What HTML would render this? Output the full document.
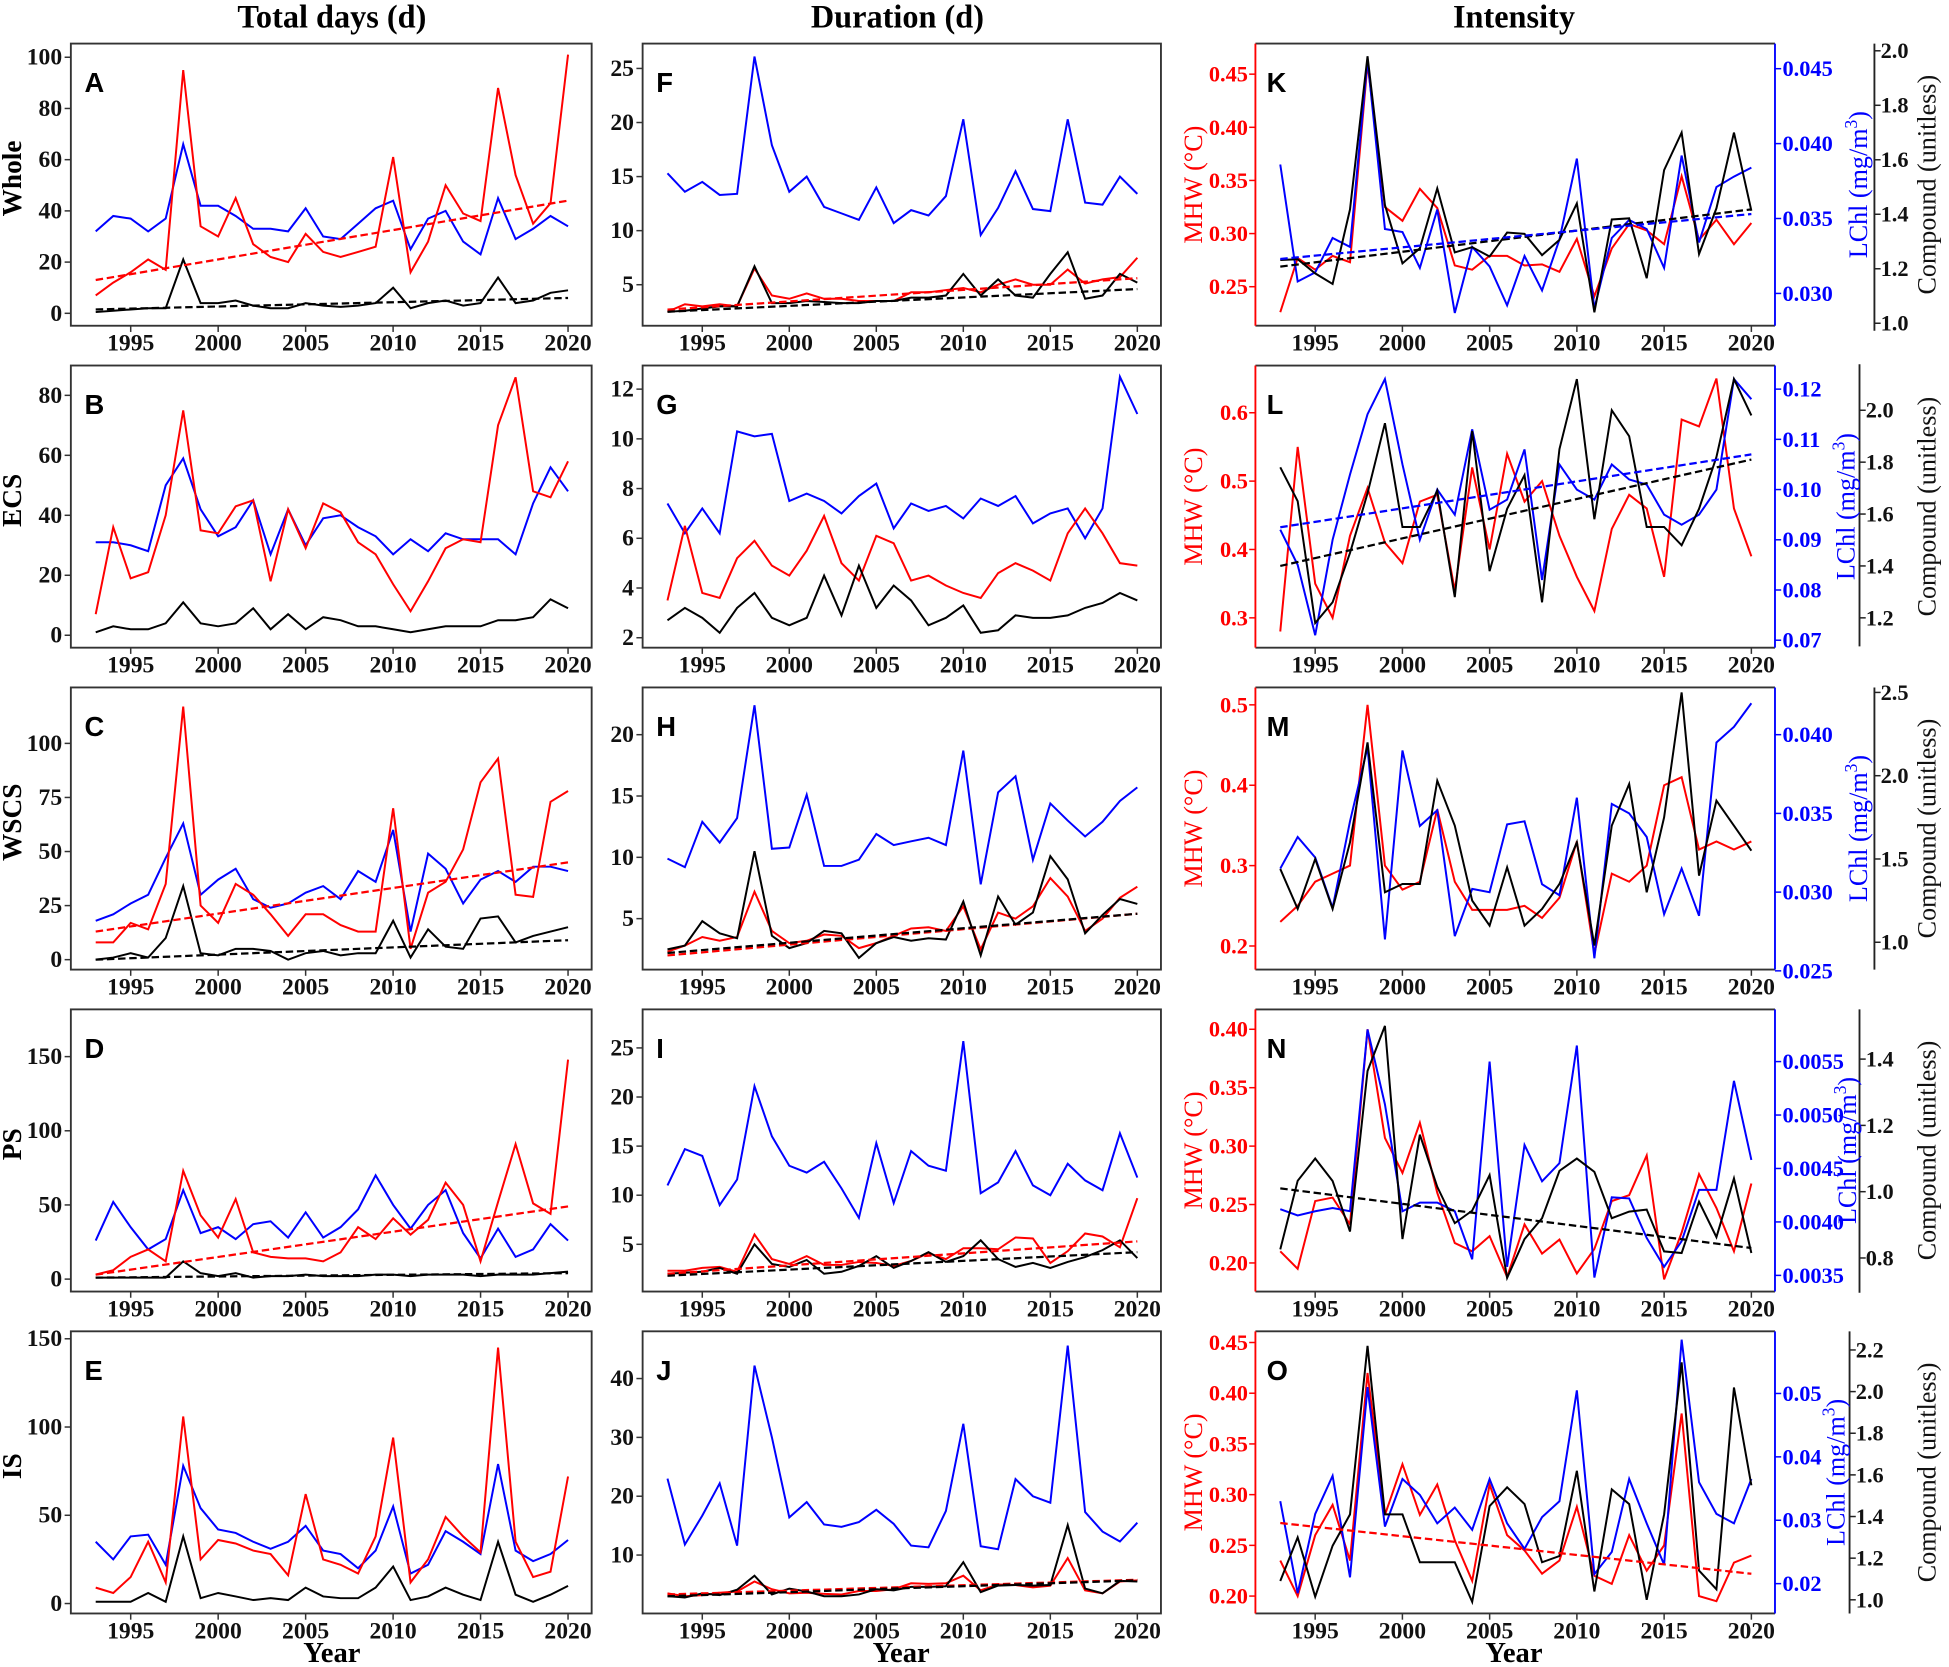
<!DOCTYPE html>
<html><head><meta charset="utf-8"><style>
html,body{margin:0;padding:0;background:#fff}
svg{display:block}
text{font-family:"Liberation Serif",serif;font-weight:bold}
text.nw{font-weight:normal}
</style></head><body>
<svg id="fig" width="1949" height="1667" viewBox="0 0 1568 1341" xmlns="http://www.w3.org/2000/svg"></svg>
<script>
const years = [1993,1994,1995,1996,1997,1998,1999,2000,2001,2002,2003,2004,2005,2006,2007,2008,2009,2010,2011,2012,2013,2014,2015,2016,2017,2018,2019,2020];
const xTicks = [1995,2000,2005,2010,2015,2020];
// Total days
const aRed = [7,12,16,21,17,95,34,30,45,27,22,20,31,24,22,24,26,61,16,28,50,39,36,88,54,35,43,101];
const aBlue = [32,38,37,32,37,66,42,42,38,33,33,32,41,30,29,35,41,44,25,37,40,28,23,45,29,33,38,34];
const aBlack = [0.5,1,1.5,2,2,21,4,4,5,3,2,2,4,3,2.5,3,4,10,2,4,5,3,4,14,4,5,8,9];
const aTrendRed = [13,44]; const aTrendBlack = [1.5,6];
const bRed = [7,36,19,21,40,75,35,34,43,45,18,42,29,44,41,31,27,17,8,18,29,32,31,70,86,48,46,58];
const bBlue = [31,31,30,28,50,59,42,33,36,45,27,42,30,39,40,36,33,27,32,28,34,32,32,32,27,44,56,48];
const bBlack = [1,3,2,2,4,11,4,3,4,9,2,7,2,6,5,3,3,2,1,2,3,3,3,5,5,6,12,9];
const cRed = [8,8,17,14,35,117,25,17,35,30,21,11,21,21,16,13,13,70,5,31,36,51,82,93,30,29,73,78];
const cBlue = [18,21,26,30,47,63,30,37,42,28,24,26,31,34,28,41,36,60,13,49,42,26,37,41,36,43,43,41];
const cBlack = [0,1,3,1,10,34,3,2,5,5,4,0,3,4,2,3,3,18,1,14,6,5,19,20,8,11,13,15];
const cTrendRed = [13,45]; const cTrendBlack = [0,9];
const dRed = [3,6,15,20,12,73,43,28,54,18,15,14,14,12,18,35,27,41,30,40,65,50,12,52,91,51,44,148];
const dBlue = [26,52,35,20,27,60,31,35,27,37,39,28,45,28,35,47,70,50,34,50,60,31,14,34,15,20,37,26];
const dBlack = [1,1,1,1,1,12,4,2,4,1,2,2,3,2,2,2,3,3,2,3,3,3,2,3,3,3,4,5];
const dTrendRed = [3,49]; const dTrendBlack = [1,4];
const eRed = [9,6,15,35,12,106,25,36,34,30,28,16,62,25,22,17,38,94,12,25,49,38,29,145,35,15,18,72];
const eBlue = [35,25,38,39,22,78,54,42,40,35,31,35,44,30,28,20,30,55,17,22,41,35,28,79,30,24,28,36];
const eBlack = [1,1,1,6,1,38,3,6,4,2,3,2,9,4,3,3,9,21,2,4,9,5,2,35,5,1,5,10];
// Duration
const fRed = [2.5,3.2,3,3.2,3,6.5,4,3.7,4.2,3.7,3.7,3.5,3.5,3.5,4.3,4.3,4.5,4.7,4.3,5,5.5,5,5,6.4,5.1,5.5,5.7,7.5];
const fBlue = [15.3,13.6,14.5,13.3,13.4,26.1,17.9,13.6,15,12.2,11.6,11,14,10.7,11.9,11.4,13.2,20.3,9.6,12.1,15.5,12,11.8,20.3,12.6,12.4,15,13.4];
const fBlack = [2.5,2.6,2.8,3,3,6.7,3.3,3.3,3.5,3.4,3.3,3.3,3.5,3.5,3.8,3.8,4,6,4,5.5,4,3.8,6,8,3.7,4,6,5.2];
const fTrendRed = [2.7,5.6]; const fTrendBlack = [2.5,4.6];
const gRed = [3.5,6.5,3.8,3.6,5.2,5.9,4.9,4.5,5.5,6.9,5.0,4.3,6.1,5.8,4.3,4.5,4.1,3.8,3.6,4.6,5.0,4.7,4.3,6.2,7.2,6.2,5.0,4.9];
const gBlue = [7.4,6.2,7.2,6.2,10.3,10.1,10.2,7.5,7.8,7.5,7.0,7.7,8.2,6.4,7.4,7.1,7.3,6.8,7.6,7.3,7.7,6.6,7.0,7.2,6.0,7.2,12.5,11.0];
const gBlack = [2.7,3.2,2.8,2.2,3.2,3.8,2.8,2.5,2.8,4.5,2.9,4.9,3.2,4.1,3.5,2.5,2.8,3.3,2.2,2.3,2.9,2.8,2.8,2.9,3.2,3.4,3.8,3.5];
const hRed = [2.3,2.8,3.5,3.2,3.5,7.2,4,3,3.2,3.7,3.6,2.6,3,3.6,4.2,4.3,4,6,2.5,5.5,5,6,8.3,6.8,4,5,6.7,7.6];
const hBlue = [9.9,9.2,12.9,11.2,13.2,22.4,10.7,10.8,15.1,9.3,9.3,9.8,11.9,11,11.3,11.6,11,18.7,7.8,15.3,16.6,9.8,14.4,13,11.7,12.9,14.6,15.7];
const hBlack = [2.5,2.8,4.8,3.8,3.4,10.5,3.6,2.6,3,4,3.8,1.8,3,3.5,3.2,3.4,3.3,6.4,2,6.8,4.5,5.5,10.1,8.2,3.8,5.3,6.6,6.2];
const hTrendRed = [2,5.4]; const hTrendBlack = [2.2,5.4];
const iRed = [2.3,2.3,2.6,2.7,2.2,6,3.5,3,3.8,2.9,2.9,3.2,3.1,2.8,3.3,4.1,3.5,4.6,4.6,4.5,5.7,5.6,3.1,4.3,6.1,5.8,4.7,9.7];
const iBlue = [11,14.7,14,9,11.6,21.1,16,13,12.3,13.4,10.7,7.7,15.3,9.2,14.5,13,12.5,25.7,10.2,11.3,14.5,11,10,13.2,11.5,10.5,16.3,11.8];
const iBlack = [2,2.1,2.2,2.6,2,5,3,2.7,3.4,2,2.2,2.8,3.8,2.6,3.3,4.2,3.2,3.8,5.4,3.5,2.7,3.1,2.6,3.2,3.7,4.4,5.4,3.6];
const iTrendRed = [2,5.3]; const iTrendBlack = [1.8,4.2];
const jRed = [3.5,3,3.2,3.6,3.8,5.5,4.2,3.5,3.6,3.4,3.3,3.9,3.9,4.2,5.2,5.1,5.2,6.5,4,5,4.9,4.5,4.8,9.5,4,3.5,5.5,5.7];
const jBlue = [23,11.8,16.7,22.2,11.6,42.2,30,16.4,19,15.2,14.8,15.6,17.7,15.3,11.6,11.3,17.5,32.3,11.5,11,22.9,20,18.9,45.6,17.3,14,12.3,15.5];
const jBlack = [3,2.8,3.5,3.2,4.1,6.5,3.3,4.3,3.8,3,3,3.3,4.2,4,4.6,4.6,4.7,8.8,3.7,4.8,4.9,4.8,4.9,15.1,4.3,3.5,5.6,5.5];
const jTrendRed = [3.3,5.8]; const jTrendBlack = [3,5.7];
// Intensity
const kRed = [0.226,0.277,0.266,0.279,0.273,0.46,0.325,0.312,0.342,0.324,0.27,0.266,0.279,0.279,0.27,0.271,0.264,0.295,0.241,0.286,0.309,0.303,0.29,0.354,0.294,0.313,0.29,0.31];
const kBlue = [0.0386,0.0308,0.0314,0.0337,0.0331,0.0456,0.0343,0.0341,0.0317,0.0356,0.0287,0.0331,0.0318,0.0292,0.0325,0.0302,0.0336,0.039,0.029,0.0337,0.0349,0.0343,0.0317,0.0392,0.0334,0.0371,0.0378,0.0384];
const kBlack = [1.232,1.235,1.183,1.144,1.418,1.98,1.434,1.22,1.275,1.495,1.26,1.279,1.245,1.333,1.328,1.25,1.306,1.44,1.04,1.381,1.385,1.165,1.562,1.70,1.254,1.422,1.70,1.413];
const kTrendBlue = [0.0323,0.0353]; const kTrendBlack = [1.208,1.418];
const lRed = [0.28,0.55,0.35,0.30,0.42,0.49,0.41,0.38,0.47,0.48,0.34,0.52,0.40,0.54,0.47,0.50,0.42,0.36,0.31,0.43,0.48,0.46,0.36,0.59,0.58,0.65,0.46,0.39];
const lBlue = [0.092,0.085,0.071,0.09,0.103,0.115,0.122,0.105,0.090,0.100,0.095,0.112,0.096,0.098,0.108,0.082,0.105,0.100,0.098,0.105,0.102,0.101,0.095,0.093,0.095,0.100,0.122,0.118];
const lBlack = [1.78,1.65,1.18,1.26,1.45,1.68,1.95,1.55,1.55,1.69,1.28,1.92,1.38,1.62,1.75,1.26,1.85,2.12,1.58,2.00,1.9,1.55,1.55,1.48,1.62,1.82,2.12,1.98];
const lTrendBlue = [0.0925,0.107]; const lTrendBlack = [1.40,1.81];
const mRed = [0.23,0.25,0.28,0.29,0.30,0.50,0.30,0.27,0.28,0.37,0.28,0.245,0.245,0.245,0.25,0.235,0.26,0.33,0.19,0.29,0.28,0.30,0.40,0.41,0.32,0.33,0.32,0.33];
const mBlue = [0.0315,0.0335,0.0322,0.029,0.0345,0.0392,0.027,0.039,0.0342,0.0352,0.0272,0.0302,0.03,0.0343,0.0345,0.0305,0.0298,0.036,0.0258,0.0356,0.035,0.0335,0.0286,0.0315,0.0285,0.0395,0.0405,0.042];
const mBlack = [1.44,1.2,1.5,1.2,1.6,2.2,1.3,1.35,1.35,1.97,1.7,1.25,1.1,1.45,1.1,1.2,1.35,1.6,0.98,1.7,1.95,1.3,1.75,2.5,1.4,1.85,1.7,1.55];
const nRed = [0.21,0.195,0.253,0.256,0.233,0.40,0.307,0.277,0.32,0.26,0.217,0.21,0.223,0.188,0.233,0.208,0.22,0.191,0.212,0.253,0.258,0.292,0.186,0.226,0.276,0.247,0.21,0.268];
const nBlue = [0.00412,0.00406,0.0041,0.00413,0.0041,0.0058,0.0051,0.0041,0.00418,0.00418,0.0041,0.00365,0.0055,0.00358,0.00472,0.00438,0.00455,0.00565,0.00348,0.00423,0.00422,0.00385,0.00358,0.00382,0.0043,0.0043,0.00532,0.00458];
const nBlack = [0.826,1.033,1.10,1.032,0.88,1.364,1.50,0.857,1.172,1.015,0.905,0.943,1.05,0.74,0.857,0.92,1.063,1.10,1.06,0.92,0.94,0.946,0.82,0.815,0.97,0.863,1.04,0.815];
const nTrendBlack = [1.01,0.83];
const oRed = [0.235,0.20,0.26,0.29,0.235,0.42,0.28,0.33,0.28,0.31,0.255,0.215,0.31,0.26,0.245,0.222,0.235,0.288,0.22,0.212,0.26,0.225,0.25,0.38,0.20,0.195,0.233,0.24];
const oBlue = [0.033,0.0185,0.031,0.037,0.021,0.051,0.029,0.0365,0.034,0.0295,0.032,0.0285,0.0365,0.0295,0.0255,0.0305,0.033,0.0505,0.0215,0.025,0.0365,0.0295,0.023,0.0585,0.036,0.031,0.0295,0.0365];
const oBlack = [1.09,1.30,1.015,1.26,1.41,2.22,1.41,1.41,1.18,1.18,1.18,0.99,1.45,1.54,1.46,1.18,1.21,1.62,1.04,1.53,1.46,1.0,1.41,2.14,1.14,1.05,2.02,1.55];
const oTrendRed = [0.272,0.222];

const NS = "http://www.w3.org/2000/svg";
const svg = document.getElementById('fig');
function mk(tag, attrs, parent){ const e=document.createElementNS(NS,tag); for(const k in attrs) e.setAttribute(k,attrs[k]); (parent||svg).appendChild(e); return e; }
function txt(s, attrs, parent){ const t=mk('text',attrs,parent); t.textContent=s; return t; }

const cols = [{x0:57,x1:476},{x0:517,x1:934},{x0:1010,x1:1428}];
const tops = [35,294,553,812,1071];
const H = 227;
function xs(col){ const c=cols[col]; const a=c.x0+20, b=c.x1-19; return y=>a+(y-1993)*(b-a)/27; }
function lin(v0,p0,v1,p1){ return v=>p0+(v-v0)*(p1-p0)/(v1-v0); }

const panels = [
 {id:'A',col:0,row:0,red:aRed,blue:aBlue,black:aBlack,tr:aTrendRed,tb:aTrendBlack,sc:lin(0,252,100,46),ticks:[0,20,40,60,80,100]},
 {id:'B',col:0,row:1,red:bRed,blue:bBlue,black:bBlack,sc:lin(0,511,80,318),ticks:[0,20,40,60,80]},
 {id:'C',col:0,row:2,red:cRed,blue:cBlue,black:cBlack,tr:cTrendRed,tb:cTrendBlack,sc:lin(0,772,100,598),ticks:[0,25,50,75,100]},
 {id:'D',col:0,row:3,red:dRed,blue:dBlue,black:dBlack,tr:dTrendRed,tb:dTrendBlack,sc:lin(0,1029,150,850),ticks:[0,50,100,150]},
 {id:'E',col:0,row:4,red:eRed,blue:eBlue,black:eBlack,sc:lin(0,1290,150,1077),ticks:[0,50,100,150]},
 {id:'F',col:1,row:0,red:fRed,blue:fBlue,black:fBlack,tr:fTrendRed,tb:fTrendBlack,sc:lin(5,229,25,55),ticks:[5,10,15,20,25]},
 {id:'G',col:1,row:1,red:gRed,blue:gBlue,black:gBlack,sc:lin(2,513,12,313),ticks:[2,4,6,8,10,12]},
 {id:'H',col:1,row:2,red:hRed,blue:hBlue,black:hBlack,tr:hTrendRed,tb:hTrendBlack,sc:lin(5,739,20,591),ticks:[5,10,15,20]},
 {id:'I',col:1,row:3,red:iRed,blue:iBlue,black:iBlack,tr:iTrendRed,tb:iTrendBlack,sc:lin(5,1001,25,843),ticks:[5,10,15,20,25]},
 {id:'J',col:1,row:4,red:jRed,blue:jBlue,black:jBlack,tr:jTrendRed,tb:jTrendBlack,sc:lin(10,1251,40,1109),ticks:[10,20,30,40]},
];
const ipanels = [
 {id:'K',row:0,red:kRed,blue:kBlue,black:kBlack,tbl:kTrendBlue,tb:kTrendBlack,rs:lin(0.25,230.6,0.45,59.6),rt:[0.25,0.30,0.35,0.40,0.45],rd:2,bs:lin(0.030,236,0.045,55.2),bt:[0.030,0.035,0.040,0.045],bd:3,cs:lin(1.0,260,2.0,40.8),ct:[1.0,1.2,1.4,1.6,1.8,2.0],cd:1,cx:1508,cy0:35,cy1:266,lx:1502},
 {id:'L',row:1,red:lRed,blue:lBlue,black:lBlack,tbl:lTrendBlue,tb:lTrendBlack,rs:lin(0.3,497,0.6,332),rt:[0.3,0.4,0.5,0.6],rd:1,bs:lin(0.07,515,0.12,313),bt:[0.07,0.08,0.09,0.10,0.11,0.12],bd:2,cs:lin(1.2,497,2.0,330),ct:[1.2,1.4,1.6,1.8,2.0],cd:1,cx:1496,cy0:293,cy1:520,lx:1492},
 {id:'M',row:2,red:mRed,blue:mBlue,black:mBlack,rs:lin(0.2,761,0.5,567),rt:[0.2,0.3,0.4,0.5],rd:1,bs:lin(0.025,781,0.040,591),bt:[0.025,0.030,0.035,0.040],bd:3,cs:lin(1.0,758,2.5,557),ct:[1.0,1.5,2.0,2.5],cd:1,cx:1508,cy0:553,cy1:780,lx:1502},
 {id:'N',row:3,red:nRed,blue:nBlue,black:nBlack,tb:nTrendBlack,rs:lin(0.20,1016,0.40,828),rt:[0.20,0.25,0.30,0.35,0.40],rd:2,bs:lin(0.0035,1026,0.0055,854),bt:[0.0035,0.0040,0.0045,0.0050,0.0055],bd:4,cs:lin(0.8,1012,1.4,852),ct:[0.8,1.0,1.2,1.4],cd:1,cx:1496,cy0:812,cy1:1040,lx:1493},
 {id:'O',row:4,red:oRed,blue:oBlue,black:oBlack,tr:oTrendRed,rs:lin(0.20,1284,0.45,1080),rt:[0.20,0.25,0.30,0.35,0.40,0.45],rd:2,bs:lin(0.02,1274,0.05,1121),bt:[0.02,0.03,0.04,0.05],bd:2,cs:lin(1.0,1287,2.2,1086),ct:[1.0,1.2,1.4,1.6,1.8,2.0,2.2],cd:1,cx:1488,cy0:1071,cy1:1298,lx:1484},
];

function poly(vals, X, sc, color, g, name){
  const pts = vals.map((v,i)=>X(years[i]).toFixed(1)+','+sc(v).toFixed(1)).join(' ');
  const p = mk('polyline',{points:pts,fill:'none',stroke:color,'stroke-width':1.6,'stroke-linejoin':'miter'},g);
  
  
}
function trend(tv, X, sc, color, g, name){
  const l = mk('line',{x1:X(years[0]),y1:sc(tv[0]),x2:X(years[years.length-1]),y2:sc(tv[1]),stroke:color,'stroke-width':1.8,'stroke-dasharray':'6,3'},g);
  
  
}
function xAxis(col,row,g){
  const X=xs(col), bot=tops[row]+H;
  xTicks.forEach(t=>{
    mk('line',{x1:X(t),y1:bot,x2:X(t),y2:bot+5,stroke:'#333','stroke-width':1.2},g);
    const tl=txt(String(t),{x:X(t),y:bot+20,'font-size':19,'text-anchor':'middle',fill:'#111'},g);
    
    
  });
}
function letter(id,x,y,g){
  const t=txt(id,{x:x,y:y,'font-size':22,fill:'#000'},g);
  t.style.fontFamily='"Liberation Sans",sans-serif';
  
  
}

panels.forEach(p=>{
  const c=cols[p.col], top=tops[p.row], X=xs(p.col);
  const g=mk('g',{});
  
  
  mk('rect',{x:c.x0,y:top,width:c.x1-c.x0,height:H,fill:'none',stroke:'#333','stroke-width':1.5},g);
  p.ticks.forEach(t=>{
    const y=p.sc(t);
    mk('line',{x1:c.x0-5,y1:y,x2:c.x0,y2:y,stroke:'#333','stroke-width':1.2},g);
    const tl=txt(String(t),{x:c.x0-7,y:y+6,'font-size':19,'text-anchor':'end',fill:'#111'},g);
    
    
  });
  xAxis(p.col,p.row,g);
  poly(p.blue,X,p.sc,'#0000ff',g,'series-lchl');
  poly(p.red,X,p.sc,'#ff0000',g,'series-mhw');
  poly(p.black,X,p.sc,'#000',g,'series-compound');
  if(p.tr) trend(p.tr,X,p.sc,'#ff0000',g,'trend-mhw');
  if(p.tb) trend(p.tb,X,p.sc,'#000',g,'trend-compound');
  letter(p.id,c.x0+11,top+39,g);
});

ipanels.forEach(p=>{
  const c=cols[2], top=tops[p.row], X=xs(2);
  const g=mk('g',{});
  
  
  mk('line',{x1:c.x0,y1:top,x2:c.x1,y2:top,stroke:'#333','stroke-width':1.5},g);
  mk('line',{x1:c.x0,y1:top+H,x2:c.x1,y2:top+H,stroke:'#333','stroke-width':1.5},g);
  mk('line',{x1:c.x0,y1:top,x2:c.x0,y2:top+H,stroke:'#ff0000','stroke-width':1.5},g);
  mk('line',{x1:c.x1,y1:top,x2:c.x1,y2:top+H,stroke:'#0000ff','stroke-width':1.5},g);
  p.rt.forEach(t=>{ const y=p.rs(t);
    mk('line',{x1:c.x0-5,y1:y,x2:c.x0,y2:y,stroke:'#ff0000','stroke-width':1.2},g);
    const tl=txt(t.toFixed(p.rd),{x:c.x0-6,y:y+6,'font-size':18,'text-anchor':'end',fill:'#ff0000'},g);
      });
  p.bt.forEach(t=>{ const y=p.bs(t);
    mk('line',{x1:c.x1,y1:y,x2:c.x1+5,y2:y,stroke:'#0000ff','stroke-width':1.2},g);
    const tl=txt(t.toFixed(p.bd),{x:c.x1+6,y:y+6,'font-size':18,'text-anchor':'start',fill:'#0000ff'},g);
      });
  mk('line',{x1:p.cx,y1:p.cy0,x2:p.cx,y2:p.cy1,stroke:'#222','stroke-width':1.5},g);
  p.ct.forEach(t=>{ const y=p.cs(t);
    mk('line',{x1:p.cx,y1:y,x2:p.cx+5,y2:y,stroke:'#222','stroke-width':1.2},g);
    const tl=txt(t.toFixed(p.cd),{x:p.cx+5,y:y+6,'font-size':18,'text-anchor':'start',fill:'#111'},g);
      });
  xAxis(2,p.row,g);
  poly(p.red,X,p.rs,'#ff0000',g,'series-mhw');
  poly(p.blue,X,p.bs,'#0000ff',g,'series-lchl');
  poly(p.black,X,p.cs,'#000',g,'series-compound');
  if(p.tr) trend(p.tr,X,p.rs,'#ff0000',g,'trend-mhw');
  if(p.tb) trend(p.tb,X,p.cs,'#000',g,'trend-compound');
  if(p.tbl) trend(p.tbl,X,p.bs,'#0000ff',g,'trend-lchl');
  letter(p.id,c.x0+9,top+39,g);
  const cy=top+H/2;
  const a=txt('MHW (°C)',{class:'nw',x:0,y:0,'font-size':21,'text-anchor':'middle',fill:'#ff0000',transform:`translate(967,${cy}) rotate(-90)`},g);
   
  const b=mk('text',{class:'nw',x:0,y:0,'font-size':21,'text-anchor':'middle',fill:'#0000ff',transform:`translate(${p.lx},${cy}) rotate(-90)`},g);
  b.innerHTML='LChl (mg/m<tspan dy="-8" font-size="14">3</tspan><tspan dy="8">)</tspan>';
   
  const d=txt('Compound (unitless)',{class:'nw',x:0,y:0,'font-size':21,'text-anchor':'middle',fill:'#111',transform:`translate(1557,${cy}) rotate(-90)`},g);
   
});

[['Total days (d)',267],['Duration (d)',722],['Intensity',1218]].forEach(([s,x])=>{
  const t=txt(s,{x:x,y:22,'font-size':26,'text-anchor':'middle',fill:'#000'});
   
});
['Whole','ECS','WSCS','PS','IS'].forEach((s,i)=>{
  const t=txt(s,{x:0,y:0,'font-size':22,'text-anchor':'middle',fill:'#000',transform:`translate(17,${tops[i]+H/2-5}) rotate(-90)`});
   
});
[267,725,1218].forEach(x=>{
  const t=txt('Year',{x:x,y:1337,'font-size':23,'text-anchor':'middle',fill:'#000'});
   
});
</script>
</body></html>
